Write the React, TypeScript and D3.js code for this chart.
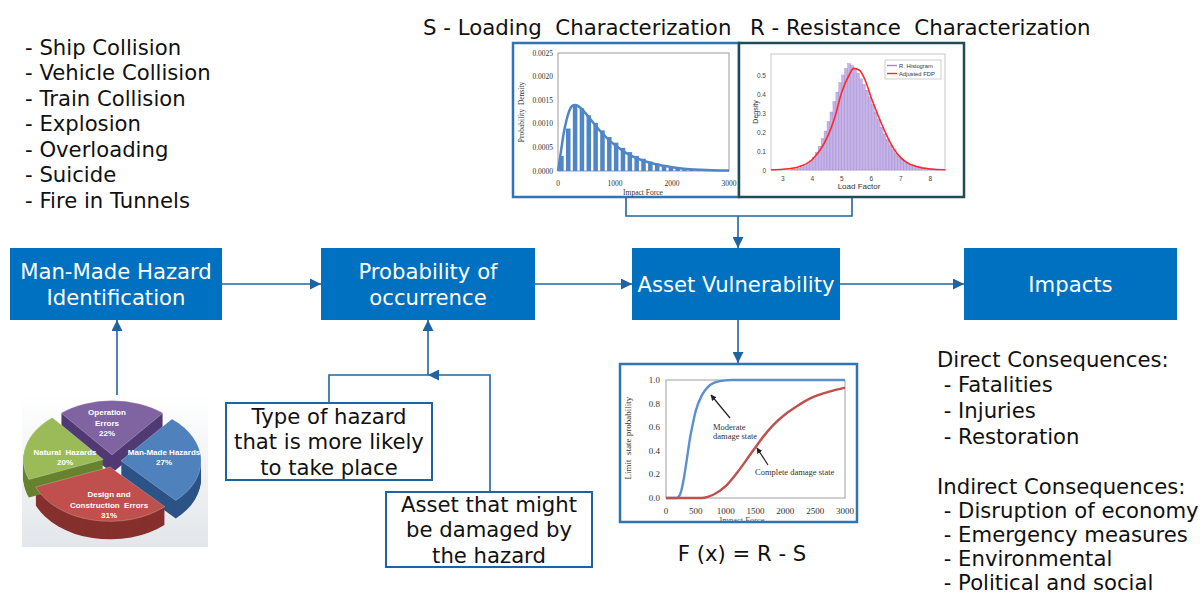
import React from 'react';
import * as d3 from 'd3';

// ---- text content ----
const hazardList = ['- Ship Collision', '- Vehicle Collision', '- Train Collision', '- Explosion', '- Overloading', '- Suicide', '- Fire in Tunnels'];
const directList = ['Direct Consequences:', ' - Fatalities', ' - Injuries', ' - Restoration'];
const indirectList = ['Indirect Consequences:', ' - Disruption of economy', ' - Emergency measures', ' - Environmental', ' - Political and social'];
const typeBoxLines = ['Type of hazard', 'that is more likely', 'to take place'];
const assetBoxLines = ['Asset that might', 'be damaged by', 'the hazard'];

// ---- S: loading histogram (impact force bins, probability density) ----
const loadBinStart = [0, 120, 240, 360, 480, 600, 720, 840, 960, 1080, 1200, 1320, 1440, 1560, 1680, 1800, 1920, 2040, 2160, 2280, 2400, 2520, 2640, 2760, 2880];
const loadDensity = [0.00032, 0.0009, 0.0014, 0.00133, 0.00118, 0.00102, 0.00086, 0.00072, 0.0006, 0.00049, 0.0004, 0.00032, 0.00026, 0.0002, 0.00016, 0.00012, 0.00009, 0.00007, 0.00005, 0.00004, 0.00003, 0.00002, 0.000015, 0.00001, 0.000006];
const loadCurveX = [0, 50, 100, 150, 200, 250, 300, 350, 400, 500, 600, 700, 800, 900, 1000, 1200, 1400, 1600, 1800, 2000, 2200, 2500, 3000];
const loadCurveY = [0, 0.0004, 0.0008, 0.00108, 0.00128, 0.00138, 0.0014, 0.00138, 0.00133, 0.0012, 0.00105, 0.0009, 0.00077, 0.00065, 0.00055, 0.00038, 0.00026, 0.00018, 0.00012, 0.00008, 0.00005, 0.000025, 0.000008];
const loadYTicks = [0, 0.0005, 0.001, 0.0015, 0.002, 0.0025];
const loadXTicks = [0, 1000, 2000, 3000];

// ---- R: resistance histogram (load factor) ----
const resBinStart = [3.3, 3.4, 3.5, 3.6, 3.7, 3.8, 3.9, 4.0, 4.1, 4.2, 4.3, 4.4, 4.5, 4.6, 4.7, 4.8, 4.9, 5.0, 5.1, 5.2, 5.3, 5.4, 5.5, 5.6, 5.7, 5.8, 5.9, 6.0, 6.1, 6.2, 6.3, 6.4, 6.5, 6.6, 6.7, 6.8, 6.9, 7.0, 7.1, 7.2, 7.3, 7.4, 7.5, 7.6, 7.7, 7.8, 7.9, 8.0, 8.1, 8.2];
const resDensity = [0.004, 0.006, 0.009, 0.014, 0.022, 0.033, 0.048, 0.068, 0.094, 0.125, 0.165, 0.205, 0.255, 0.305, 0.36, 0.41, 0.46, 0.5, 0.535, 0.56, 0.55, 0.53, 0.51, 0.48, 0.45, 0.42, 0.385, 0.345, 0.305, 0.265, 0.225, 0.19, 0.16, 0.132, 0.108, 0.088, 0.07, 0.057, 0.046, 0.038, 0.031, 0.026, 0.021, 0.017, 0.014, 0.011, 0.009, 0.007, 0.005, 0.004];
const resCurveX = [2.6, 3.0, 3.5, 4.0, 4.5, 4.75, 5.0, 5.25, 5.4, 5.6, 5.8, 6.0, 6.25, 6.5, 6.75, 7.0, 7.25, 7.5, 8.0, 8.5];
const resCurveY = [0.001, 0.004, 0.015, 0.055, 0.17, 0.27, 0.41, 0.5, 0.535, 0.525, 0.47, 0.38, 0.28, 0.19, 0.115, 0.065, 0.035, 0.02, 0.005, 0.001];
const resYTicks = [0, 0.1, 0.2, 0.3, 0.4, 0.5];
const resXTicks = [3, 4, 5, 6, 7, 8];
const resLegend = ['R. Histogram', 'Adjusted FDP'];

// ---- fragility curves ----
const fragX = [0, 180, 200, 250, 300, 350, 400, 450, 500, 600, 700, 800, 900, 1000, 1100, 1300, 3000];
const moderateY = [0, 0, 0.005, 0.05, 0.17, 0.33, 0.5, 0.63, 0.74, 0.87, 0.94, 0.975, 0.99, 0.997, 1, 1, 1];
const completeX = [0, 600, 700, 800, 1000, 1200, 1400, 1500, 1600, 1800, 2000, 2200, 2400, 2600, 2800, 3000];
const completeY = [0, 0, 0.01, 0.03, 0.1, 0.22, 0.36, 0.43, 0.5, 0.62, 0.71, 0.78, 0.84, 0.88, 0.91, 0.935];
const fragYTicks = [0, 0.2, 0.4, 0.6, 0.8, 1.0];
const fragXTicks = [0, 500, 1000, 1500, 2000, 2500, 3000];

// ---- pie of failure causes ----
const pieNames = [['Operation', 'Errors'], ['Man-Made Hazards'], ['Design and', 'Construction  Errors'], ['Natural  Hazards']];
const pieValues = [22, 27, 31, 20];

const FONT = '"DejaVu Sans", Verdana, sans-serif';
const SERIF = '"Liberation Serif", "Times New Roman", serif';
const SANS = '"Liberation Sans", Arial, sans-serif';
const BOX = '#0070c0';
const LINE = '#1f64a0';
const BODY = 21.2;

function Txt({ x, y, children, size = BODY, anchor = 'start', fill = '#111', family = FONT }: any) {
  return <text x={x} y={y} fontSize={size} textAnchor={anchor} fill={fill} fontFamily={family}
    dominantBaseline="central" style={{ whiteSpace: 'pre' }}>{children}</text>;
}

function LoadingChart() {
  const x = d3.scaleLinear().domain([0, 3000]).range([558, 729]);
  const y = d3.scaleLinear().domain([0, 0.0025]).range([171, 53]);
  const line = d3.line<number>().x((d, i) => x(loadCurveX[i])).y(d => y(d)).curve(d3.curveMonotoneX);
  const col = '#4f86c6';
  return <g>
    <rect x={513} y={43} width={226} height={154} fill="#fff" stroke="#2e75b6" strokeWidth={2.5} />
    <rect x={558} y={53} width={171} height={118} fill="none" stroke="#9a9a9a" strokeWidth={1} />
    {loadBinStart.map((b, i) => {
      const x0 = x(b), x1 = x(b + 120);
      const w = (x1 - x0) * 0.66;
      return <rect key={i} x={x0 + (x1 - x0 - w) / 2} y={y(loadDensity[i])} width={w} height={y(0) - y(loadDensity[i])} fill={col} />;
    })}
    <path d={line(loadCurveY) || ''} fill="none" stroke={col} strokeWidth={2.5} />
    {loadYTicks.map(t => <Txt key={t} x={553} y={y(t)} size={7.5} anchor="end" family={SERIF} fill="#333">{d3.format('.4f')(t)}</Txt>)}
    {loadXTicks.map(t => <Txt key={t} x={x(t)} y={183} size={7.5} anchor="middle" family={SERIF} fill="#333">{t}</Txt>)}
    <Txt x={643} y={192} size={7.5} anchor="middle" family={SERIF} fill="#333">Impact Force</Txt>
    <g transform="translate(521,112) rotate(-90)">
      <Txt x={0} y={0} size={7.5} anchor="middle" family={SERIF} fill="#333">Probability  Density</Txt>
    </g>
  </g>;
}

function ResistanceChart() {
  const x = d3.scaleLinear().domain([2.6, 8.5]).range([771, 945]);
  const y = d3.scaleLinear().domain([0, 0.5]).range([170, 75]);
  const line = d3.line<number>().x((d, i) => x(resCurveX[i])).y(d => y(d)).curve(d3.curveMonotoneX);
  return <g>
    <rect x={739} y={43} width={225} height={154} fill="#fff" stroke="#1e4d5a" strokeWidth={2.5} />
    <rect x={771} y={54} width={174} height={116} fill="none" stroke="#c8c8c8" strokeWidth={1} />
    {resBinStart.map((b, i) => (
      <rect key={i} x={x(b)} y={y(resDensity[i])} width={x(b + 0.1) - x(b)} height={y(0) - y(resDensity[i])}
        fill="#c5b3e6" stroke="#a48ad6" strokeWidth={0.4} />
    ))}
    <path d={line(resCurveY) || ''} fill="none" stroke="#ff2a2a" strokeWidth={1.6} />
    {resYTicks.map(t => <Txt key={t} x={766} y={y(t)} size={6.5} anchor="end" family={SANS} fill="#444">{t === 0 ? '0' : d3.format('.1f')(t)}</Txt>)}
    {resXTicks.map(t => <Txt key={t} x={x(t)} y={178} size={6.5} anchor="middle" family={SANS} fill="#444">{t}</Txt>)}
    <Txt x={859} y={186} size={8} anchor="middle" family={SANS} fill="#333">Load Factor</Txt>
    <g transform="translate(755,112) rotate(-90)">
      <Txt x={0} y={0} size={7} anchor="middle" family={SANS} fill="#333">Density</Txt>
    </g>
    <rect x={885} y={60} width={56} height={19} fill="#fff" stroke="#b0b0b0" strokeWidth={0.6} />
    {resLegend.map((l, i) => (
      <g key={l}>
        <line x1={887} x2={897} y1={65.5 + i * 8} y2={65.5 + i * 8} stroke={i === 0 ? '#a48ad6' : '#ff2a2a'} strokeWidth={1.4} />
        <Txt x={899} y={65.5 + i * 8} size={5.8} family={SANS} fill="#333">{l}</Txt>
      </g>
    ))}
  </g>;
}

function FragilityChart() {
  const x = d3.scaleLinear().domain([0, 3000]).range([666, 845]);
  const y = d3.scaleLinear().domain([0, 1]).range([498, 380]);
  const modLine = d3.line<number>().x((d, i) => x(fragX[i])).y(d => y(d)).curve(d3.curveMonotoneX);
  const compLine = d3.line<number>().x((d, i) => x(completeX[i])).y(d => y(d)).curve(d3.curveMonotoneX);
  return <g>
    <defs>
      <marker id="ann" viewBox="0 0 10 10" refX={9} refY={5} markerWidth={6} markerHeight={6} orient="auto" markerUnits="userSpaceOnUse">
        <path d="M0,0 L10,5 L0,10 z" fill="#222" />
      </marker>
      <clipPath id="fragClip"><rect x={620} y={364} width={237} height={157} /></clipPath>
    </defs>
    <rect x={620} y={364} width={237} height={158} fill="#fff" />
    <g clipPath="url(#fragClip)">
      <rect x={666} y={380} width={179} height={118} fill="none" stroke="#a0a0a0" strokeWidth={1} />
      <path d={modLine(moderateY) || ''} fill="none" stroke="#5b8fd0" strokeWidth={2.4} />
      <path d={compLine(completeY) || ''} fill="none" stroke="#c0504d" strokeWidth={2.4} />
      {fragYTicks.map(t => <Txt key={t} x={660} y={y(t)} size={9} anchor="end" family={SERIF} fill="#333">{d3.format('.1f')(t)}</Txt>)}
      {fragXTicks.map(t => <Txt key={t} x={x(t)} y={511} size={9} anchor="middle" family={SERIF} fill="#333">{t}</Txt>)}
      <Txt x={742} y={519.5} size={8.5} anchor="middle" family={SERIF} fill="#555">Impact Force</Txt>
      <g transform="translate(628,438) rotate(-90)">
        <Txt x={0} y={0} size={9} anchor="middle" family={SERIF} fill="#333">Limit  state probability</Txt>
      </g>
      <line x1={730} y1={418} x2={711} y2={395} stroke="#222" strokeWidth={1.2} markerEnd="url(#ann)" />
      <Txt x={713} y={427} size={8.5} family={SERIF} fill="#333">Moderate</Txt>
      <Txt x={713} y={436} size={8.5} family={SERIF} fill="#333">damage state</Txt>
      <line x1={768} y1={465} x2={757} y2={448} stroke="#222" strokeWidth={1.2} markerEnd="url(#ann)" />
      <Txt x={755} y={472} size={8.5} family={SERIF} fill="#333">Complete damage state</Txt>
    </g>
    <rect x={620} y={364} width={237} height={158} fill="none" stroke="#2e75b6" strokeWidth={2.5} />
  </g>;
}

function Pie3D() {
  const cx = 112, cy = 461, R = 80, sy = 0.68, depth = 18, explode = 9;
  const a0 = -0.22 * Math.PI;
  const arcs = d3.pie<number>().sort(null).startAngle(a0).endAngle(a0 + 2 * Math.PI)(pieValues);
  const arc = d3.arc<d3.PieArcDatum<number>>().innerRadius(0).outerRadius(R);
  const tops = ['#8064a2', '#4f81bd', '#c0504d', '#9bbb59'];
  const sides = ['#513a73', '#2c5386', '#86302d', '#67832f'];
  const labelPos = [[107, 412], [164, 452], [109, 494], [65, 452]];
  const offs = arcs.map(a => {
    const m = (a.startAngle + a.endAngle) / 2;
    return [Math.sin(m) * explode, -Math.cos(m) * explode * sy];
  });
  const layers = d3.range(depth, 0, -1);
  return <g>
    <defs>
      <linearGradient id="pieBg" x1="0" y1="0" x2="0" y2="1">
        <stop offset="0" stopColor="#ffffff" />
        <stop offset="1" stopColor="#e3e6ea" />
      </linearGradient>
    </defs>
    <rect x={22} y={395} width={186} height={152} fill="url(#pieBg)" />
    <g transform={`translate(${cx},${cy})`}>
      {arcs.map((a, i) => (
        <g key={'s' + i} transform={`translate(${offs[i][0]},${offs[i][1]})`}>
          {layers.map(k => <path key={k} d={arc(a) || ''} transform={`translate(0,${k}) scale(1,${sy})`} fill={sides[i]} />)}
        </g>
      ))}
      {arcs.map((a, i) => (
        <g key={'t' + i} transform={`translate(${offs[i][0]},${offs[i][1]})`}>
          <path d={arc(a) || ''} transform={`scale(1,${sy})`} fill={tops[i]} stroke="#ffffff" strokeOpacity={0.35} strokeWidth={0.8} />
        </g>
      ))}
    </g>
    {arcs.map((a, i) => {
      const lines = [...pieNames[i], pieValues[i] + '%'];
      return <g key={'l' + i}>
        {lines.map((l, j) => (
          <Txt key={j} x={labelPos[i][0]} y={labelPos[i][1] + j * (lines.length > 2 ? 10.5 : 9.5)} size={8} anchor="middle"
            family={SANS} fill="#fff">
            <tspan fontWeight="bold">{l}</tspan>
          </Txt>
        ))}
      </g>;
    })}
  </g>;
}

function FlowBox({ x, y, w, h, lines }: any) {
  const mid = y + h / 2;
  const step = 26;
  const start = mid - ((lines.length - 1) * step) / 2;
  return <g>
    <rect x={x} y={y} width={w} height={h} fill={BOX} />
    {lines.map((l: string, i: number) => <Txt key={i} x={x + w / 2} y={start + i * step} anchor="middle" fill="#fff">{l}</Txt>)}
  </g>;
}

function NoteBox({ x, y, w, h, lines }: any) {
  const mid = y + h / 2;
  const step = 25.5;
  const start = mid - ((lines.length - 1) * step) / 2;
  return <g>
    <rect x={x} y={y} width={w} height={h} fill="#fff" stroke={LINE} strokeWidth={2} />
    {lines.map((l: string, i: number) => <Txt key={i} x={x + w / 2} y={start + i * step} anchor="middle">{l}</Txt>)}
  </g>;
}

export default function App() {
  return (
    <svg width={1204} height={596} style={{ position: 'absolute', left: 0, top: 0, background: '#fff' }}>
      <defs>
        <marker id="arr" viewBox="0 0 10 10" refX={10} refY={5} markerWidth={11} markerHeight={11} orient="auto" markerUnits="userSpaceOnUse">
          <path d="M0,0 L10,5 L0,10 z" fill={LINE} />
        </marker>
      </defs>
      <rect width={1204} height={596} fill="#fff" />

      {/* titles */}
      <Txt x={423} y={27} size={21.3}>{'S - Loading  Characterization'}</Txt>
      <Txt x={750} y={27} size={21.3}>{'R - Resistance  Characterization'}</Txt>

      {/* hazard list */}
      {hazardList.map((h, i) => <Txt key={h} x={25} y={47 + i * 25.5}>{h}</Txt>)}

      {/* connectors */}
      <g fill="none" stroke={LINE} strokeWidth={1.6}>
        <polyline points="626,197 626,216 852,216 852,197" />
        <line x1={738} y1={216} x2={738} y2={248} markerEnd="url(#arr)" />
        <line x1={222} y1={284} x2={321} y2={284} markerEnd="url(#arr)" />
        <line x1={535} y1={284} x2={632} y2={284} markerEnd="url(#arr)" />
        <line x1={840} y1={284} x2={964} y2={284} markerEnd="url(#arr)" />
        <line x1={738} y1={320} x2={738} y2={363} markerEnd="url(#arr)" />
        <line x1={117} y1={398} x2={117} y2={320} markerEnd="url(#arr)" />
        <polyline points="329,403 329,375 428,375" />
        <polyline points="490,492 490,375 428,375" markerEnd="url(#arr)" />
        <line x1={428} y1={375} x2={428} y2={320} markerEnd="url(#arr)" />
      </g>

      <LoadingChart />
      <ResistanceChart />

      <FlowBox x={10} y={248} w={212} h={72} lines={['Man-Made Hazard', 'Identification']} />
      <FlowBox x={321} y={248} w={214} h={72} lines={['Probability of', 'occurrence']} />
      <FlowBox x={632} y={248} w={208} h={72} lines={['Asset Vulnerability']} />
      <FlowBox x={964} y={248} w={213} h={72} lines={['Impacts']} />

      <NoteBox x={226} y={403} w={206} h={77} lines={typeBoxLines} />
      <NoteBox x={386} y={492} w={206} h={75} lines={assetBoxLines} />

      <Pie3D />
      <FragilityChart />

      <Txt x={742} y={553} anchor="middle">{'F (x) = R - S'}</Txt>

      {directList.map((d, i) => <Txt key={d} x={937} y={359 + i * 25.7}>{d}</Txt>)}
      {indirectList.map((d, i) => <Txt key={d} x={937} y={486 + i * 24.2}>{d}</Txt>)}
    </svg>
  );
}
